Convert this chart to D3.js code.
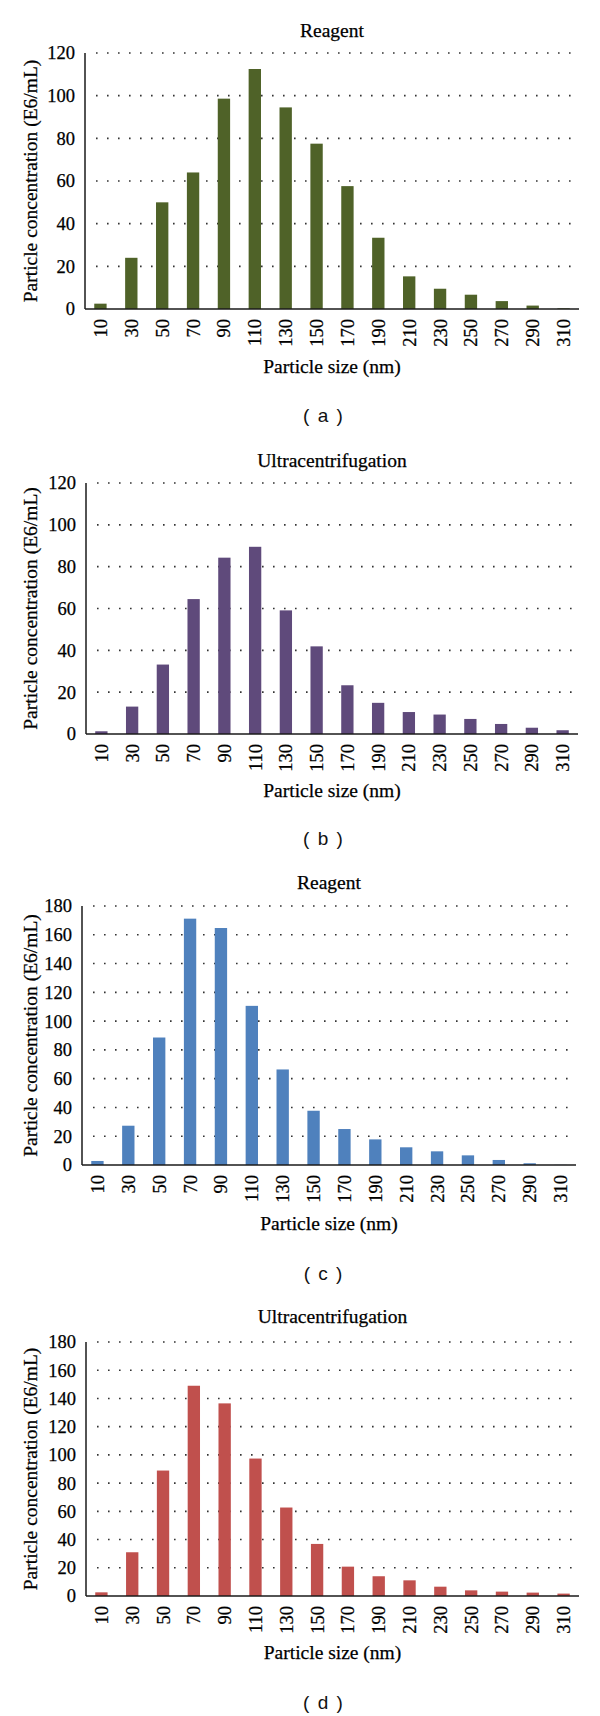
<!DOCTYPE html>
<html>
<head>
<meta charset="utf-8">
<script src="https://cdn.jsdelivr.net/npm/d3@7"></script>
<style>
  html, body { margin: 0; padding: 0; background: #ffffff; }
  svg { display: block; }
</style>
</head>
<body>
<svg id="chart" width="600" height="1716"></svg>
<script>
// ---------- data ----------
const sizes = ["10","30","50","70","90","110","130","150","170","190","210","230","250","270","290","310"];

const reagentA = [2.5, 24, 50, 64, 98.6, 112.5, 94.5, 77.5, 57.6, 33.4, 15.3, 9.5, 6.7, 3.7, 1.6, 0.3];
const ultraB   = [1.3, 13.1, 33.2, 64.5, 84.3, 89.5, 59.1, 41.9, 23.3, 14.9, 10.5, 9.3, 7.2, 4.8, 3.0, 1.8];
const reagentC = [2.8, 27.3, 88.6, 171.2, 164.7, 110.6, 66.4, 37.7, 25, 17.8, 12.3, 9.5, 6.7, 3.5, 1.2, 0.1];
const ultraD   = [2.6, 31, 88.9, 149, 136.5, 97.4, 62.7, 36.9, 20.8, 14, 11.1, 6.6, 4, 3.1, 2.4, 1.7];

const titles = ["Reagent", "Ultracentrifugation", "Reagent", "Ultracentrifugation"];
const panelLabels = ["( a )", "( b )", "( c )", "( d )"];
const yTicksA = [0, 20, 40, 60, 80, 100, 120];
const yTicksC = [0, 20, 40, 60, 80, 100, 120, 140, 160, 180];
const xTitle = "Particle size (nm)";
const yTitle = "Particle concentration (E6/mL)";

// ---------- layout ----------
const panels = [
  { values: reagentA, ticks: yTicksA, color: "#4F6228", titleY: 37,   x0: 85, x1: 579, yTop: 53,   yBot: 309,  xTitleY: 373,  labelY: 415 },
  { values: ultraB,   ticks: yTicksA, color: "#5F4A7B", titleY: 467,  x0: 86, x1: 578, yTop: 483,  yBot: 734,  xTitleY: 797,  labelY: 838 },
  { values: reagentC, ticks: yTicksC, color: "#4F81BD", titleY: 889,  x0: 82, x1: 576, yTop: 906,  yBot: 1165, xTitleY: 1230, labelY: 1273 },
  { values: ultraD,   ticks: yTicksC, color: "#C0504D", titleY: 1323, x0: 86, x1: 579, yTop: 1342, yBot: 1596, xTitleY: 1659, labelY: 1702 }
];

const svg = d3.select("#chart");
const serif = "'Liberation Serif', 'Times New Roman', serif";
const sans = "'Liberation Sans', Arial, sans-serif";

function ink(sel) {
  return sel.attr("fill", "#000").attr("stroke", "#000").attr("stroke-width", 0.25);
}

panels.forEach((p, i) => {
  const g = svg.append("g");
  const ymax = p.ticks[p.ticks.length - 1];
  const x = d3.scaleBand().domain(sizes).range([p.x0, p.x1]).paddingInner(0.6).paddingOuter(0.3);
  const y = d3.scaleLinear().domain([0, ymax]).range([p.yBot, p.yTop]);
  const cx = (p.x0 + p.x1) / 2;

  // gridlines (dotted)
  g.append("g").selectAll("line")
    .data(p.ticks.filter(t => t > 0))
    .join("line")
    .attr("x1", p.x0 + 6).attr("x2", p.x1)
    .attr("y1", d => y(d)).attr("y2", d => y(d))
    .attr("stroke", "#333")
    .attr("stroke-width", 1.6)
    .attr("stroke-dasharray", "1.6 9.4")
    .attr("stroke-dashoffset", -5);

  // bars
  g.append("g").selectAll("rect")
    .data(p.values)
    .join("rect")
    .attr("x", (d, j) => x(sizes[j]))
    .attr("width", x.bandwidth())
    .attr("y", d => y(d))
    .attr("height", d => y(0) - y(d))
    .attr("fill", p.color);

  // y axis
  const yAxis = g.append("g")
    .attr("transform", `translate(${p.x0},0)`)
    .call(d3.axisLeft(y).tickValues(p.ticks).tickSize(0).tickPadding(10).tickFormat(d3.format("d")));
  yAxis.select(".domain").remove();
  ink(yAxis.selectAll("text")
    .attr("font-family", serif).attr("font-size", 18.5));

  // x axis
  const xAxis = g.append("g")
    .attr("transform", `translate(0,${p.yBot})`)
    .call(d3.axisBottom(x).tickSize(0));
  xAxis.select(".domain").remove();
  ink(xAxis.selectAll("text")
    .attr("font-family", serif).attr("font-size", 18.5)
    .attr("transform", "rotate(-90)")
    .attr("x", -10).attr("y", 0).attr("dy", "0.35em")
    .attr("text-anchor", "end"));

  // axis lines
  g.append("line")
    .attr("x1", p.x0).attr("x2", p.x0).attr("y1", p.yTop).attr("y2", p.yBot)
    .attr("stroke", "#1a1a1a").attr("stroke-width", 1.5);
  g.append("line")
    .attr("x1", p.x0).attr("x2", p.x1).attr("y1", p.yBot).attr("y2", p.yBot)
    .attr("stroke", "#1a1a1a").attr("stroke-width", 1.5);

  // chart title
  ink(g.append("text")
    .attr("x", cx).attr("y", p.titleY)
    .attr("text-anchor", "middle")
    .attr("font-family", serif).attr("font-size", 19.5)
    .text(titles[i]));

  // x title
  ink(g.append("text")
    .attr("x", cx).attr("y", p.xTitleY)
    .attr("text-anchor", "middle")
    .attr("font-family", serif).attr("font-size", 19.5)
    .text(xTitle));

  // y title
  ink(g.append("text")
    .attr("transform", `translate(37,${(p.yTop + p.yBot) / 2}) rotate(-90)`)
    .attr("text-anchor", "middle")
    .attr("font-family", serif).attr("font-size", 19.5)
    .text(yTitle));

  // panel label
  g.append("text")
    .attr("x", 323).attr("y", p.labelY)
    .attr("dy", "0.35em")
    .attr("text-anchor", "middle")
    .attr("font-family", sans).attr("font-size", 19).attr("fill", "#111")
    .attr("word-spacing", 3)
    .text(panelLabels[i]);
});
</script>
</body>
</html>
